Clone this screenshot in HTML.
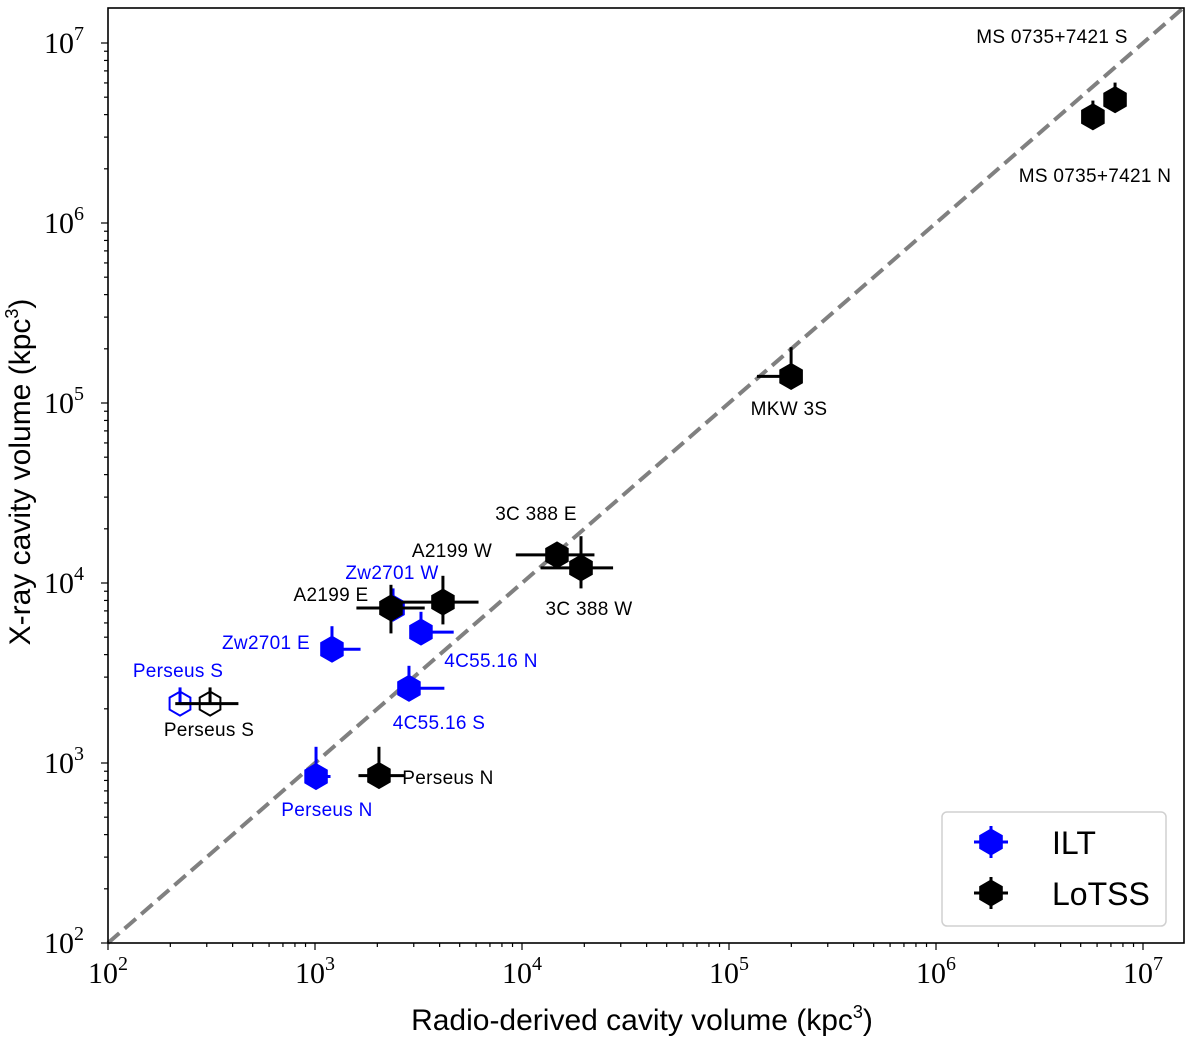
<!DOCTYPE html>
<html><head><meta charset="utf-8"><style>
html,body{margin:0;padding:0;background:#fff;}
svg text{font-family:"Liberation Sans",sans-serif;}
.tk{font-family:"Liberation Serif",serif;font-size:30px;}
</style></head><body>
<svg id="chart" width="1200" height="1039" viewBox="0 0 1200 1039" xmlns="http://www.w3.org/2000/svg">
<g id="plot"></g>
</svg>
<script>
const ns="http://www.w3.org/2000/svg";
// data (log10 values)
const iltNames=["Perseus N","Perseus S","Zw2701 E","Zw2701 W","4C55.16 N","4C55.16 S"];
const iltX=[3.005,2.348,3.082,3.377,3.512,3.454];
const iltY=[2.925,3.33,3.632,3.86,3.727,3.415];
const iltXlo=[3.005,2.348,3.082,3.377,3.512,3.454];
const iltXhi=[3.075,2.40,3.22,3.43,3.67,3.625];
const iltYlo=[2.925,3.33,3.632,3.86,3.727,3.415];
const iltYhi=[3.09,3.42,3.76,3.97,3.84,3.54];
const iltOpen=[false,true,false,false,false,false];
const lotNames=["Perseus N","Perseus S","A2199 E","A2199 W","3C 388 E","3C 388 W","MKW 3S","MS 0735+7421 N","MS 0735+7421 S"];
const lotX=[3.309,2.493,3.367,3.618,4.169,4.285,5.30,6.758,6.865];
const lotY=[2.93,3.33,3.861,3.894,4.156,4.084,5.148,6.59,6.685];
const lotXlo=[3.21,2.325,3.20,3.42,3.97,4.09,5.135,6.758,6.865];
const lotXhi=[3.43,2.63,3.53,3.79,4.35,4.44,5.30,6.758,6.865];
const lotYlo=[2.93,3.33,3.72,3.77,4.156,3.97,5.148,6.59,6.685];
const lotYhi=[3.09,3.42,3.99,4.04,4.22,4.26,5.31,6.68,6.78];
const lotOpen=[false,true,false,false,false,false,false,false,false];
const xTicks=[2,3,4,5,6,7];
const yTicks=[2,3,4,5,6,7];
const L=108,R=1184,T=8,B=943;
const X0=2,XPD=207,YPD=180;
const sx=v=>L+(v-X0)*XPD;
const sy=v=>B-(v-2)*YPD;
const g=document.getElementById('plot');
function mk(t,a,p){const e=document.createElementNS(ns,t);for(const k in a)e.setAttribute(k,a[k]);(p||g).appendChild(e);return e;}
const diag=mk('line',{x1:sx(2),y1:sy(2),x2:R,y2:sy(2+(R-L)/XPD),stroke:'#808080','stroke-width':4,'stroke-dasharray':'15,7'});


function hex(cx,cy,r,col,open,p){
 let pts=[];for(let i=0;i<6;i++){const a=Math.PI/180*(60*i-90);pts.push((cx+r*Math.cos(a)).toFixed(1)+','+(cy+r*Math.sin(a)).toFixed(1));}
 return mk('polygon',{points:pts.join(' '),fill:open?'none':col,stroke:col,'stroke-width':open?2:1},p);
}
function series(names,xs,ys,xlo,xhi,ylo,yhi,open,col,key){
 const sg=mk('g',{});
 
 
 for(let i=0;i<names.length;i++){
  const pg=mk('g',{},sg);
  
  
  mk('line',{x1:sx(xlo[i]),x2:sx(xhi[i]),y1:sy(ys[i]),y2:sy(ys[i]),stroke:col,'stroke-width':3},pg);
  mk('line',{x1:sx(xs[i]),x2:sx(xs[i]),y1:sy(ylo[i]),y2:sy(yhi[i]),stroke:col,'stroke-width':3},pg);
  hex(sx(xs[i]),sy(ys[i]),open[i]?12:13,col,open[i],pg);
 }
}
series(iltNames,iltX,iltY,iltXlo,iltXhi,iltYlo,iltYhi,iltOpen,'#0000ff','ilt');
series(lotNames,lotX,lotY,lotXlo,lotXhi,lotYlo,lotYhi,lotOpen,'#000','lotss');
const labs=[["Perseus S",178,677,"#0000ff"],["Zw2701 E",266,649,"#0000ff"],["Zw2701 W",392,579,"#0000ff"],["4C55.16 N",491,667,"#0000ff"],["4C55.16 S",439,729,"#0000ff"],["Perseus N",327,816,"#0000ff"],
["Perseus S",209,736,"#000"],["Perseus N",448,784,"#000"],["A2199 E",331,601,"#000"],["A2199 W",452,557,"#000"],["3C 388 E",536,520,"#000"],["3C 388 W",589,615,"#000"],["MKW 3S",789,415,"#000"],["MS 0735+7421 N",1095,182,"#000"],["MS 0735+7421 S",1052,43,"#000"]];
labs.forEach(l=>{const t=mk('text',{x:l[1],y:l[2],'text-anchor':'middle','font-size':19,'letter-spacing':'0.3',fill:l[3]});t.textContent=l[0];

});
const fr=mk('rect',{x:L,y:T,width:R-L,height:B-T,fill:'none',stroke:'#000','stroke-width':1.6});


const tg=mk('g',{});


for(let d=2;d<=7;d++){for(let m=1;m<10;m++){const v=d+Math.log10(m);
 const px=sx(v); if(px<=R+0.5){mk('line',{x1:px,x2:px,y1:B,y2:B+(m==1?7:4),stroke:'#000','stroke-width':1.2},tg);}
 const py=sy(v); if(py>=T-0.5){mk('line',{y1:py,y2:py,x1:L,x2:L-(m==1?7:4),stroke:'#000','stroke-width':1.2},tg);}
}}
xTicks.forEach(v=>{const t=mk('text',{x:sx(v),y:983,'text-anchor':'middle',class:'tk'});t.innerHTML='10<tspan dy="-13" font-size="20">'+v+'</tspan>';

});
yTicks.forEach(v=>{const t=mk('text',{x:84,y:sy(v)+10,'text-anchor':'end',class:'tk'});t.innerHTML='10<tspan dy="-13" font-size="20">'+v+'</tspan>';

});
const xt=mk('text',{x:642,y:1030,'text-anchor':'middle','font-size':30});xt.innerHTML='Radio-derived cavity volume (kpc<tspan dy="-12" font-size="18">3</tspan><tspan dy="12">)</tspan>';


const yt=mk('text',{x:0,y:0,'text-anchor':'middle','font-size':30,transform:'translate(30,472) rotate(-90)'});yt.innerHTML='X-ray cavity volume (kpc<tspan dy="-12" font-size="18">3</tspan><tspan dy="12">)</tspan>';


const lg=mk('g',{});


mk('rect',{x:942,y:812,width:224,height:114,rx:5,fill:'#fff',stroke:'#d0d0d0','stroke-width':1.5},lg);
[["ILT","#0000ff",842],["LoTSS","#000",893]].forEach(e=>{
 const eg=mk('g',{},lg);
 
 
 mk('line',{x1:974,x2:1008,y1:e[2],y2:e[2],stroke:e[1],'stroke-width':3},eg);
 mk('line',{x1:991,x2:991,y1:e[2]-16,y2:e[2]+16,stroke:e[1],'stroke-width':3},eg);
 hex(991,e[2],13,e[1],false,eg);
 const t=mk('text',{x:1052,y:e[2]+12,'font-size':32,fill:'#000'},eg);t.textContent=e[0];
});
</script>
</body></html>
